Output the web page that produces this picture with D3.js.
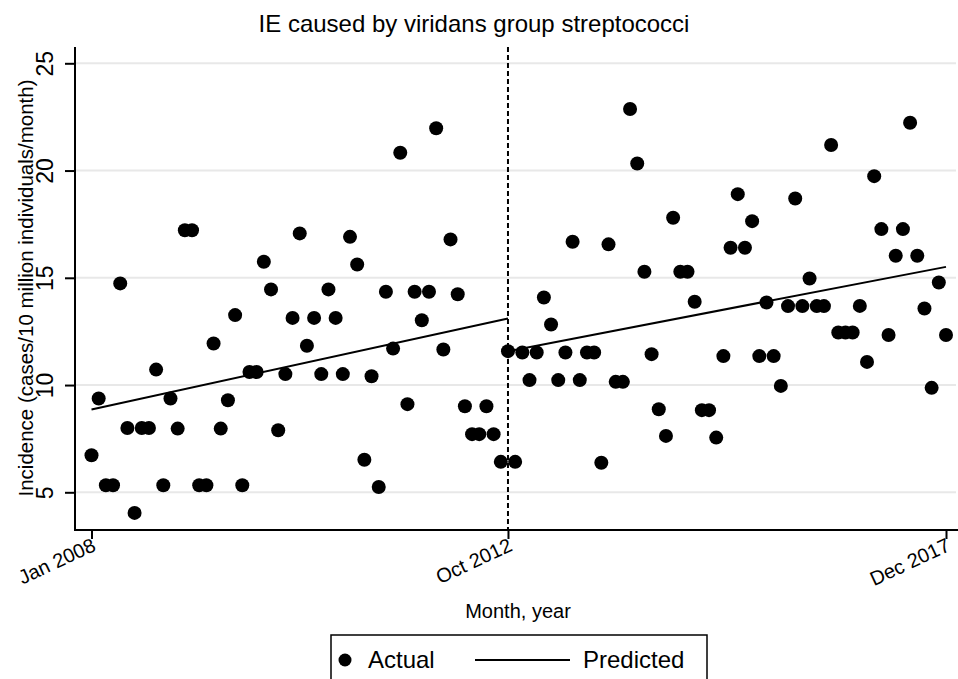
<!DOCTYPE html>
<html lang="en">
<head>
  <meta charset="UTF-8">
  <title>IE caused by viridans group streptococci</title>
  <style>
    body { margin: 0; background: #fff; }
    svg { display: block; font-family: "Liberation Sans", Arial, sans-serif; }
    .grid line { stroke: #e8e8e8; stroke-width: 2px; }
    .axis path { display: none; }
    .axis line { stroke: #000; stroke-width: 2px; }
    .axis text { fill: #000; }
    .dot { fill: #000; }
  </style>
</head>
<body>
  <svg id="chart" width="958" height="679"></svg>

  <script src="https://d3js.org/d3.v7.min.js"></script>

  <script>
    // Monthly incidence, Jan 2008 .. Dec 2017 (120 months)
    const incidence = [
      6.73, 9.37, 5.33, 5.33, 14.74, 8.00, 4.04, 8.00, 8.00, 10.72, 5.33, 9.37,
      7.97, 17.22, 17.22, 5.33, 5.33, 11.94, 7.97, 9.29, 13.26, 5.33, 10.61, 10.61,
      15.75, 14.46, 7.89, 10.51, 13.13, 17.07, 11.83, 13.13, 10.51, 14.46, 13.13, 10.51,
      16.91, 15.62, 6.52, 10.41, 5.25, 14.35, 11.70, 20.83, 9.11, 14.35, 13.02, 14.35,
      21.97, 11.66, 16.79, 14.23, 9.01, 7.71, 7.71, 9.01, 7.71, 6.42, 11.58, 6.42,
      11.52, 10.23, 11.52, 14.08, 12.82, 10.23, 11.52, 16.68, 10.23, 11.52, 11.52, 6.38,
      16.56, 10.15, 10.15, 22.87, 20.33, 15.28, 11.44, 8.87, 7.63, 17.80, 15.28, 15.28,
      13.88, 8.83, 8.83, 7.55, 11.35, 16.40, 18.90, 16.40, 17.64, 11.35, 13.85, 11.35,
      9.96, 13.68, 18.70, 13.68, 14.97, 13.68, 13.68, 21.19, 12.45, 12.45, 12.45, 13.69,
      11.08, 19.74, 17.27, 12.33, 16.03, 17.27, 22.23, 16.03, 13.57, 9.87, 14.78, 12.33
    ];

    const tickMonths = [0, 58, 119];
    const tickLabels = ['Jan 2008', 'Oct 2012', 'Dec 2017'];
    const yTicks = [5, 10, 15, 20, 25];
    const interventionMonth = 58;

    // predicted segments: [month, value]
    const predictedPre = [[0, 8.86], [58, 13.10]];
    const predictedPost = [[58, 11.58], [119, 15.51]];

    const legendItems = ['Actual', 'Predicted'];

    // plot box
    const plotLeft = 75, plotRight = 956, plotTop = 47, plotBottom = 530;

    const svg = d3.select('#chart');

    const x = d3.scaleLinear().domain([0, 119]).range([91.5, 946]);
    const y = d3.scaleLinear().domain([5, 25]).range([492.3, 63.3]);

    // gridlines
    svg.append('g')
      .attr('class', 'grid')
      .selectAll('line')
      .data(yTicks)
      .enter().append('line')
      .attr('x1', plotLeft)
      .attr('x2', plotRight)
      .attr('y1', d => y(d))
      .attr('y2', d => y(d));

    // y axis
    const yAxis = svg.append('g')
      .attr('class', 'axis')
      .attr('transform', `translate(${plotLeft},0)`)
      .call(d3.axisLeft(y).tickValues(yTicks).tickSize(10).tickPadding(0));
    yAxis.selectAll('text')
      .attr('x', 0)
      .attr('dy', 0)
      .attr('text-anchor', 'middle')
      .attr('font-size', 23)
      .attr('transform', 'translate(-22,0) rotate(-90)');

    // x axis
    const xAxis = svg.append('g')
      .attr('class', 'axis')
      .attr('transform', `translate(0,${plotBottom})`)
      .call(d3.axisBottom(x).tickValues(tickMonths)
        .tickFormat((d, i) => tickLabels[i]).tickSize(9));
    xAxis.selectAll('text')
      .attr('y', 0)
      .attr('dy', 0)
      .attr('text-anchor', 'end')
      .attr('font-size', 20)
      .attr('transform', 'translate(5,20) rotate(-25)');

    // axis lines
    svg.append('line')
      .attr('x1', plotLeft).attr('x2', plotLeft)
      .attr('y1', plotTop).attr('y2', plotBottom + 1)
      .attr('stroke', '#000').attr('stroke-width', 2);
    svg.append('line')
      .attr('x1', plotLeft - 1).attr('x2', 958)
      .attr('y1', plotBottom).attr('y2', plotBottom)
      .attr('stroke', '#000').attr('stroke-width', 2);

    // intervention line
    svg.append('line')
      .attr('x1', x(interventionMonth)).attr('x2', x(interventionMonth))
      .attr('y1', plotTop).attr('y2', plotBottom)
      .attr('stroke', '#000')
      .attr('stroke-width', 2)
      .attr('stroke-dasharray', '5,3');

    // predicted
    const line = d3.line().x(d => x(d[0])).y(d => y(d[1]));
    [predictedPre, predictedPost].forEach(seg => {
      svg.append('path')
        .datum(seg)
        .attr('d', line)
        .attr('fill', 'none')
        .attr('stroke', '#000')
        .attr('stroke-width', 2);
    });

    // actual
    svg.append('g')
      .selectAll('.dot')
      .data(incidence)
      .enter().append('circle')
      .attr('class', 'dot')
      .attr('cx', (d, i) => x(i))
      .attr('cy', d => y(d))
      .attr('r', 7);

    // titles
    svg.append('text')
      .attr('x', 474).attr('y', 32)
      .attr('text-anchor', 'middle')
      .attr('font-size', 24)
      .text('IE caused by viridans group streptococci');

    svg.append('text')
      .attr('x', 518).attr('y', 618)
      .attr('text-anchor', 'middle')
      .attr('font-size', 20)
      .text('Month, year');

    svg.append('text')
      .attr('transform', 'translate(33,288) rotate(-90)')
      .attr('text-anchor', 'middle')
      .attr('font-size', 20.5)
      .text('Incidence (cases/10 million individuals/month)');

    // legend
    const legend = svg.append('g');
    legend.append('rect')
      .attr('x', 331).attr('y', 635)
      .attr('width', 376).attr('height', 60)
      .attr('fill', '#fff')
      .attr('stroke', '#000')
      .attr('stroke-width', 1.5);
    legend.append('circle')
      .attr('cx', 345).attr('cy', 660).attr('r', 6.5)
      .attr('fill', '#000');
    legend.append('text')
      .attr('x', 368).attr('y', 668)
      .attr('font-size', 24)
      .text(legendItems[0]);
    legend.append('line')
      .attr('x1', 475).attr('x2', 570)
      .attr('y1', 660).attr('y2', 660)
      .attr('stroke', '#000').attr('stroke-width', 2);
    legend.append('text')
      .attr('x', 583).attr('y', 668)
      .attr('font-size', 24)
      .text(legendItems[1]);
  </script>
</body>
</html>
